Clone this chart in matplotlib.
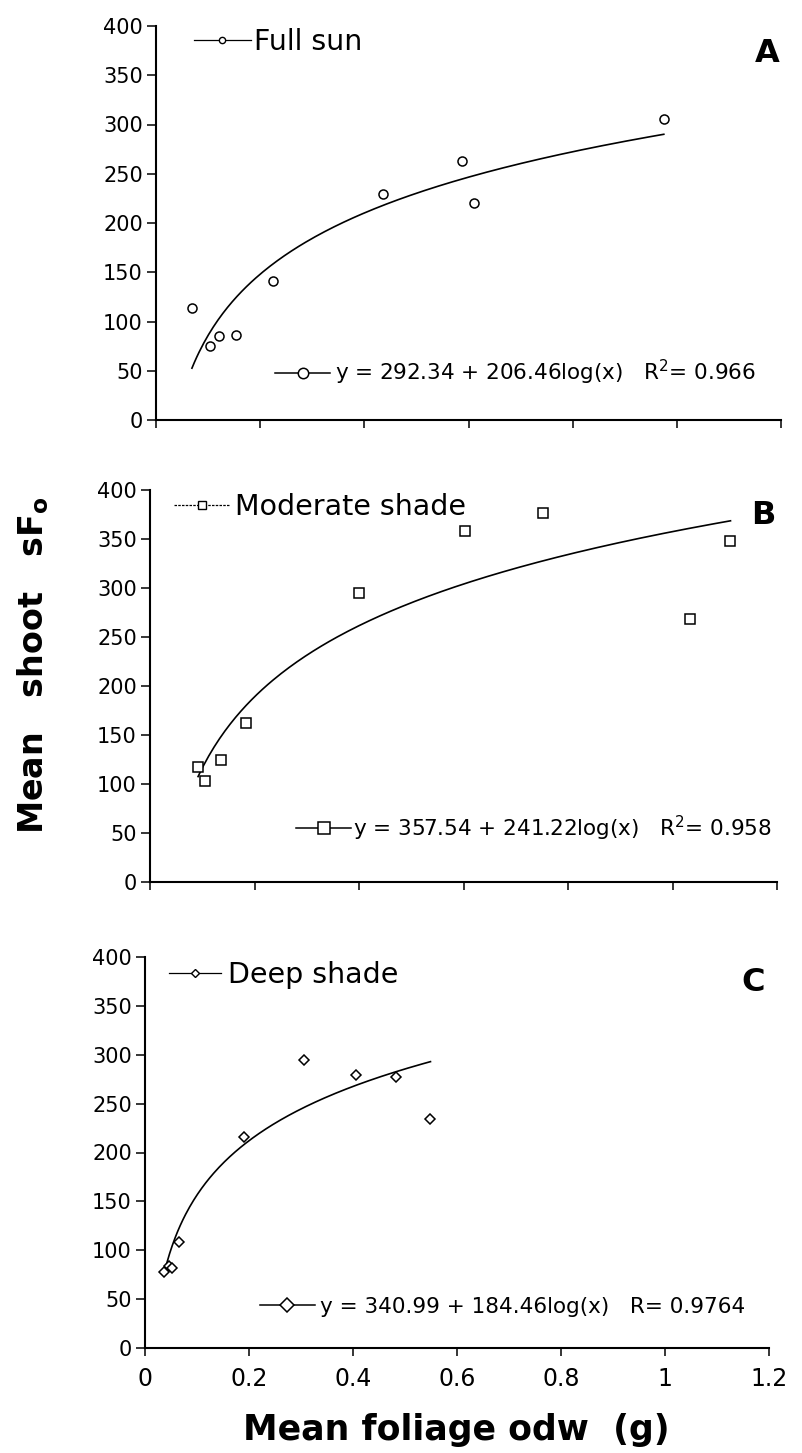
import numpy as np
import matplotlib
matplotlib.use("Agg")
import matplotlib.pyplot as plt
from matplotlib.lines import Line2D
from matplotlib import font_manager as fm

# values
sun_x = [0.069, 0.103, 0.121, 0.154, 0.224, 0.435, 0.587, 0.611, 0.975]
sun_y = [114, 75, 85, 86.5, 141, 229, 263, 220, 306]

mod_x = [0.092, 0.105, 0.136, 0.184, 0.400, 0.602, 0.753, 1.034, 1.111]
mod_y = [117, 103, 125, 162, 295, 358, 377, 268, 348]

deep_x = [0.037, 0.047, 0.052, 0.065, 0.191, 0.306, 0.405, 0.482, 0.549]
deep_y = [78, 84, 82, 108, 216, 295, 279, 277, 234]

# y = a + b*log10(x), as printed on the chart
sun_fit = (292.34, 206.46)
mod_fit = (357.54, 241.22)
deep_fit = (340.99, 184.46)

names = ['Full sun', 'Moderate shade', 'Deep shade']
equations = ['y = 292.34 + 206.46log(x)   R$^2$= 0.966',
             'y = 357.54 + 241.22log(x)   R$^2$= 0.958',
             'y = 340.99 + 184.46log(x)   R= 0.9764']
letters = ['A', 'B', 'C']
x_ticks = [0, 0.2, 0.4, 0.6, 0.8, 1.0, 1.2]
x_tick_labels = ['0', '0.2', '0.4', '0.6', '0.8', '1', '1.2']
y_ticks = [0, 50, 100, 150, 200, 250, 300, 350, 400]

plt.rcParams['font.family'] = 'DejaVu Sans'
installed = {f.name for f in fm.fontManager.ttflist}
narrow = 'Liberation Sans Narrow' in installed
ylab_font = 'Liberation Sans Narrow' if narrow else 'DejaVu Sans'
ylab_size = 31 if narrow else 24

W, H = 802, 1453
fig = plt.figure(figsize=(W / 100, H / 100), dpi=100)


def rect(left, right, top, bottom):
    return [left / W, 1 - bottom / H, (right - left) / W, (bottom - top) / H]


panels = [
    dict(x=sun_x, y=sun_y, fit=sun_fit, marker='o', ms=6.5, rect=rect(156, 781, 26, 420),
         leg_top=(0.06, 0.959, 2.02, 0.12, 4.5, '-'),
         leg_bot=(0.191, 0.12, 2.53, 0.25, 7.5),
         letter=(0.978, 0.929, 'bold')),
    dict(x=mod_x, y=mod_y, fit=mod_fit, marker='s', ms=7, rect=rect(150, 777, 490, 882),
         leg_top=(0.038, 0.957, 1.96, 0.19, 6, (0, (2, 1))),
         leg_bot=(0.233, 0.138, 2.56, 0.1, 8.5),
         letter=(0.978, 0.936, 'bold')),
    dict(x=deep_x, y=deep_y, fit=deep_fit, marker='D', ms=5.5, rect=rect(145, 769, 957, 1348),
         leg_top=(0.0385, 0.954, 1.82, 0.25, 4.0, '-'),
         leg_bot=(0.184, 0.105, 2.56, 0.23, 7.5),
         letter=(0.974, 0.936, 'semibold')),
]

for i, p in enumerate(panels):
    ax = fig.add_axes(p['rect'])
    ax.plot(p['x'], p['y'], linestyle='none', marker=p['marker'], ms=p['ms'],
            mfc='white', mec='black', mew=1.1, zorder=3)
    a, b = p['fit']
    xx = np.linspace(min(p['x']), max(p['x']), 200)
    ax.plot(xx, a + b * np.log10(xx), color='black', lw=1.2)

    ax.set_xlim(0, 1.2)
    ax.set_ylim(0, 400)
    ax.set_xticks(x_ticks)
    ax.set_yticks(y_ticks)
    for s in ['top', 'right']:
        ax.spines[s].set_visible(False)
    for s in ['left', 'bottom']:
        ax.spines[s].set_linewidth(1.5)
    ax.tick_params(axis='y', direction='out', length=6.5, width=1.1, labelsize=15, pad=3)
    ax.tick_params(axis='x', direction='out', length=6, width=1.1, labelsize=17, pad=8)
    if i < 2:
        ax.tick_params(axis='x', labelbottom=False)
    else:
        ax.set_xticklabels(x_tick_labels)

    lx, ly, hl, hp, hms, hls = p['leg_top']
    h1 = Line2D([], [], color='black', lw=0.9, ls=hls, marker=p['marker'], ms=hms,
                mfc='white', mec='black', mew=1.0)
    leg1 = ax.legend([h1], [names[i]], loc='center left', bbox_to_anchor=(lx, ly),
                     frameon=False, fontsize=20.5, handlelength=hl, handletextpad=hp,
                     borderpad=0, borderaxespad=0, numpoints=1)
    ax.add_artist(leg1)

    lx, ly, hl, hp, hms = p['leg_bot']
    h2 = Line2D([], [], color='black', lw=1.1, marker=p['marker'], ms=hms,
                mfc='white', mec='black', mew=1.1)
    ax.legend([h2], [equations[i]], loc='center left', bbox_to_anchor=(lx, ly),
              frameon=False, fontsize=15.5, handlelength=hl, handletextpad=hp,
              borderpad=0, borderaxespad=0, numpoints=1)

    tx, ty, tw = p['letter']
    ax.text(tx, ty, letters[i], transform=ax.transAxes, ha='center', va='center',
            fontsize=23, fontweight=tw)

fig.text(33 / W, 1 - 665 / H, r'Mean   shoot   sF$_{\mathbf{o}}$', rotation=90,
         ha='center', va='center', fontsize=ylab_size, fontweight='bold', family=ylab_font)
fig.text(456 / W, (H - 1440) / H, 'Mean foliage odw  (g)', ha='center', va='baseline',
         fontsize=25, fontweight='bold')

fig.savefig('out.png', dpi=100)
